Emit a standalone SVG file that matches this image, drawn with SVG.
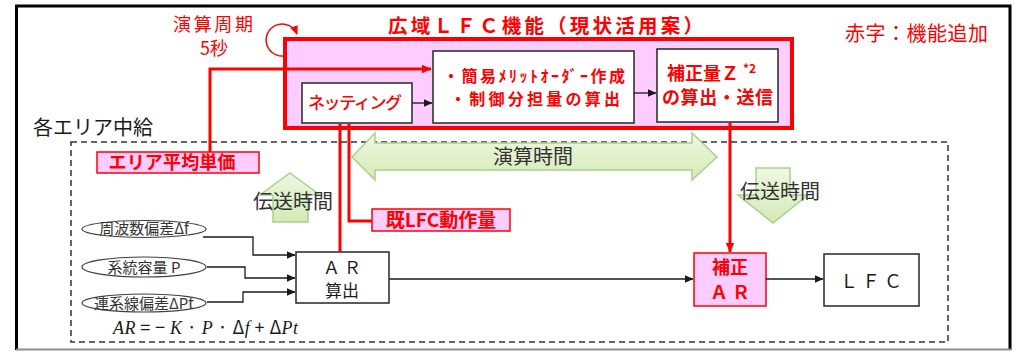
<svg xmlns="http://www.w3.org/2000/svg" width="1017" height="352" viewBox="0 0 1017 352">
<style>
text{font-family:"Noto Sans CJK JP","Noto Sans",sans-serif;}
.red{fill:#ff0000;}
.rb{fill:#ff0000;font-weight:bold;}
.blk{fill:#1a1a1a;}
.gtxt{fill:#333333;}
.box{fill:#ffffff;stroke:#262626;stroke-width:1.5;}
.pbox{fill:#ffccff;stroke:#ff0000;stroke-width:1.5;}
.oval{fill:#ffffff;stroke:#404040;stroke-width:1.2;}
.kline{fill:none;stroke:#1a1a1a;stroke-width:1.3;}
.rline{fill:none;stroke:#ff0000;stroke-width:3;}
.garrow{fill:url(#gg);stroke:#a9d18e;stroke-width:1.5;}
.math{font-family:"Liberation Serif","DejaVu Serif",serif;font-style:italic;}
</style>
<defs>
<linearGradient id="gg" x1="0" y1="0" x2="0" y2="1">
<stop offset="0" stop-color="#eef7e2"/>
<stop offset="1" stop-color="#d5eab6"/>
</linearGradient>
<marker id="ak" markerWidth="9" markerHeight="8" refX="8.5" refY="4" orient="auto" markerUnits="userSpaceOnUse">
<path d="M0,0 L9,4 L0,8 Z" fill="#1a1a1a"/>
</marker>
<marker id="ar" markerWidth="10" markerHeight="9" refX="9.5" refY="4.5" orient="auto" markerUnits="userSpaceOnUse">
<path d="M0,0 L10,4.5 L0,9 Z" fill="#ff0000"/>
</marker>
<marker id="ar2" markerWidth="9" markerHeight="8" refX="8" refY="4" orient="auto" markerUnits="userSpaceOnUse">
<path d="M0,0 L9,4 L0,8 Z" fill="#ff0000"/>
</marker>
</defs>

<rect width="1017" height="352" fill="#ffffff"/>

<!-- outer frame -->
<g id="frame">
<path d="M16.5,350 V6 H1010 V350" fill="none" stroke="#000000" stroke-width="3"/>
<line x1="16" y1="349.5" x2="1011" y2="349.5" stroke="#8c8c8c" stroke-width="2"/>
</g>

<!-- area dashed region -->
<g id="area">
<rect x="71" y="142" width="877" height="200" fill="none" stroke="#333333" stroke-width="1.5" stroke-dasharray="6,4"/>
<text x="33" y="135" font-size="20" class="blk">各エリア中給</text>
</g>

<g id="legend">
<text x="845" y="41" font-size="20" class="red" textLength="143">赤字：機能追加</text>
</g>

<!-- wide-area LFC box -->
<g id="wide-lfc">
<text x="388" y="33" font-size="19.5" class="rb" textLength="315">広域ＬＦＣ機能（現状活用案）</text>
<rect x="285" y="39" width="507" height="89" fill="#ffccff" stroke="#ff0000" stroke-width="4"/>
</g>

<g id="cycle">
<text x="173" y="31" font-size="18" class="red" textLength="80">演算周期</text>
<text x="214" y="55" font-size="18" class="red" text-anchor="middle">5秒</text>
<path d="M283,56 A16,16 0 1 1 297,34" fill="none" stroke="#ff0000" stroke-width="1.5" marker-end="url(#ar2)"/>
</g>

<g id="netting">
<rect x="302" y="83" width="110" height="40" class="box"/>
<text x="355" y="109" font-size="17" class="red" font-weight="500" text-anchor="middle" textLength="94">ネッティング</text>
</g>

<g id="merit">
<rect x="433" y="51" width="201" height="72" class="box"/>
<text x="443" y="81.5" font-size="16" class="rb" textLength="182">・簡易ﾒﾘｯﾄｵｰﾀﾞｰ作成</text>
<text x="450" y="105" font-size="16" class="rb" textLength="170">・制御分担量の算出</text>
</g>

<g id="hosei-z">
<rect x="657" y="49" width="121" height="73" class="box"/>
<text x="667" y="80" font-size="18" class="rb">補正量Ｚ<tspan dx="4" dy="-7" font-size="12">*2</tspan></text>
<text x="717.5" y="104" font-size="18" class="rb" text-anchor="middle" textLength="111">の算出・送信</text>
</g>

<g id="area-price">
<rect x="97" y="152" width="162" height="21" class="pbox"/>
<text x="172" y="169" font-size="18" class="rb" text-anchor="middle" textLength="127">エリア平均単価</text>
</g>

<g id="lfc-amount">
<rect x="372" y="209" width="138" height="22" class="pbox"/>
<text x="441" y="227" font-size="19" class="rb" text-anchor="middle">既LFC動作量</text>
</g>

<g id="calc-time">
<polygon class="garrow" points="352,157 375,133 375,143 692,143 692,133 717,157 692,180 692,170 375,170 375,180"/>
<text x="533" y="164" font-size="20" class="gtxt" text-anchor="middle">演算時間</text>
</g>

<g id="trans-time-up">
<polygon class="garrow" points="290,173 320,195 308,195 308,222 273,222 273,195 260,195"/>
<text x="293" y="209" font-size="20" class="gtxt" text-anchor="middle">伝送時間</text>
</g>

<g id="trans-time-down">
<polygon class="garrow" points="756,168 790,168 790,195 808,195 773,223 738,195 756,195"/>
<text x="780" y="199" font-size="20" class="gtxt" text-anchor="middle">伝送時間</text>
</g>

<g id="oval-df">
<ellipse cx="144" cy="229" rx="62" ry="8.5" class="oval"/>
<text x="144" y="234" font-size="15" class="gtxt" text-anchor="middle">周波数偏差Δf</text>
</g>
<g id="oval-p">
<ellipse cx="144" cy="267" rx="62" ry="10" class="oval"/>
<text x="144" y="272.5" font-size="15" class="gtxt" text-anchor="middle">系統容量 P</text>
</g>
<g id="oval-dpt">
<ellipse cx="144" cy="303" rx="62" ry="9" class="oval"/>
<text x="144" y="308.5" font-size="15" class="gtxt" text-anchor="middle">連系線偏差ΔPt</text>
</g>

<g id="formula">
<text x="113" y="334" font-size="18" class="blk" textLength="185"><tspan class="math">AR</tspan> = − <tspan class="math">K</tspan> · <tspan class="math">P</tspan> · Δ<tspan class="math">f</tspan>  + Δ<tspan class="math">Pt</tspan></text>
</g>

<g id="ar-calc">
<rect x="296" y="252" width="93" height="51" class="box"/>
<text x="342" y="273.5" font-size="17" class="blk" text-anchor="middle">Ａ Ｒ</text>
<text x="342" y="296.5" font-size="17" class="blk" text-anchor="middle">算出</text>
</g>

<g id="hosei-ar">
<rect x="694" y="253" width="72" height="53" class="pbox"/>
<text x="730" y="274" font-size="18" class="rb" text-anchor="middle">補正</text>
<text x="730" y="298.5" font-size="18" class="rb" text-anchor="middle">Ａ Ｒ</text>
</g>

<g id="lfc">
<rect x="824" y="254" width="95" height="52" class="box"/>
<text x="871" y="288" font-size="18" class="blk" text-anchor="middle">Ｌ Ｆ Ｃ</text>
</g>

<!-- connectors -->
<g id="connectors">
<line x1="412" y1="103" x2="432" y2="103" class="kline" marker-end="url(#ak)"/>
<line x1="634" y1="93" x2="656" y2="93" class="kline" marker-end="url(#ak)"/>
<path d="M210,152 V69 H431" class="rline" marker-end="url(#ar)"/>
<path d="M340,124 V252" class="rline"/>
<path d="M349,124 V221 H372" class="rline"/>
<path d="M730,123 V252" class="rline" marker-end="url(#ar)"/>
<path d="M203,237 H253 V255 H295" class="kline" marker-end="url(#ak)"/>
<path d="M207,267 H245 V278 H295" class="kline" marker-end="url(#ak)"/>
<path d="M207,302 H243 V292 H295" class="kline" marker-end="url(#ak)"/>
<line x1="389" y1="279" x2="693" y2="279" class="kline" marker-end="url(#ak)"/>
<line x1="766" y1="279" x2="823" y2="279" class="kline" marker-end="url(#ak)"/>
</g>
</svg>
